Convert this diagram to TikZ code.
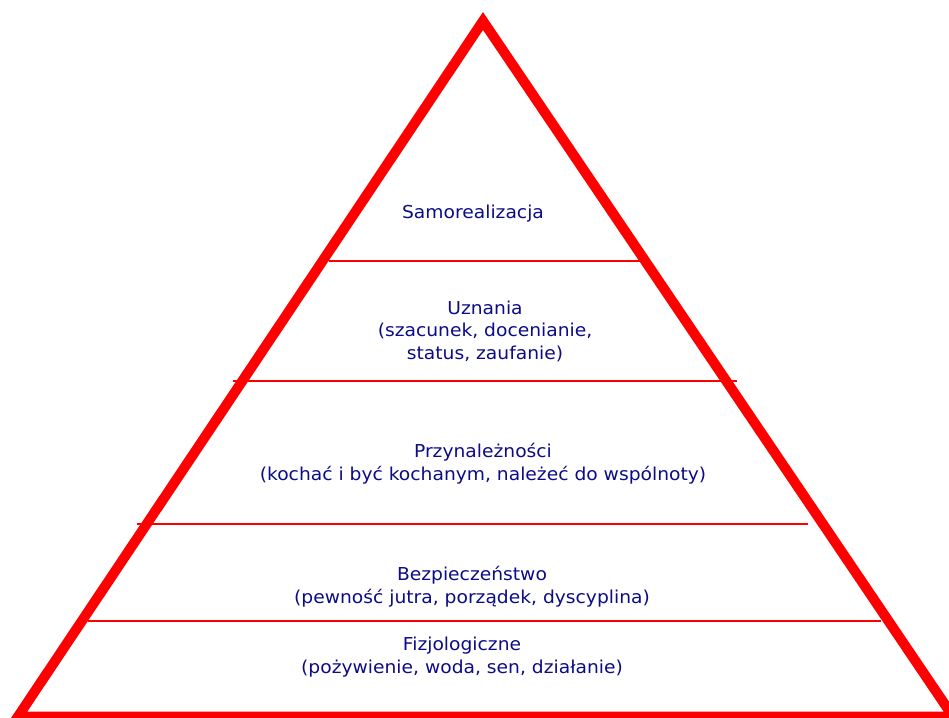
\documentclass[tikz,border=0pt]{standalone}
\usepackage{fontspec}
\setmainfont[FakeStretch=1.05]{DejaVu Sans}
\definecolor{pyrred}{RGB}{255,0,0}
\definecolor{pyrtext}{RGB}{12,12,135}
\tikzset{
  outline/.style={draw=pyrred, line width=10pt, line join=miter, miter limit=20},
  divider/.style={draw=pyrred, line width=2pt},
  lbl/.style={anchor=base, inner sep=0pt, text=pyrtext, font=\fontsize{17.8}{22.5}\selectfont}
}
\begin{document}
\begin{tikzpicture}[x=1pt, y=-1pt]
\useasboundingbox (0,0) rectangle (949,717);
\clip (0,0) rectangle (949,717);
\fill[white] (0,0) rectangle (949,717);
% triangle
\coordinate (apex) at (483,21);
\coordinate (bl) at (18,716.5);
\coordinate (br) at (953,716.5);
\draw[outline] (apex) -- (br) -- (bl) -- cycle;
% dividers
\coordinate (d1l) at (329,261); \coordinate (d1r) at (640,261);
\coordinate (d2l) at (233,380.5); \coordinate (d2r) at (737,380.5);
\coordinate (d3l) at (137,524); \coordinate (d3r) at (808,524);
\coordinate (d4l) at (88,621); \coordinate (d4r) at (881,621);
\draw[divider] (d1l) -- (d1r);
\draw[divider] (d2l) -- (d2r);
\draw[divider] (d3l) -- (d3r);
\draw[divider] (d4l) -- (d4r);
% labels
\node[lbl] (t1) at (473,218) {Samorealizacja};
\node[lbl] (t2a) at (485,314) {Uznania};
\node[lbl] (t2b) at (485,336.5) {(szacunek, docenianie,};
\node[lbl] (t2c) at (485,359) {status, zaufanie)};
\node[lbl] (t3a) at (483,457) {Przynależności};
\node[lbl] (t3b) at (483,480) {(kochać i być kochanym, należeć do wspólnoty)};
\node[lbl] (t4a) at (472,580) {Bezpieczeństwo};
\node[lbl] (t4b) at (472,603) {(pewność jutra, porządek, dyscyplina)};
\node[lbl] (t5a) at (462,650) {Fizjologiczne};
\node[lbl] (t5b) at (462,673) {(pożywienie, woda, sen, działanie)};
\end{tikzpicture}
\end{document}
